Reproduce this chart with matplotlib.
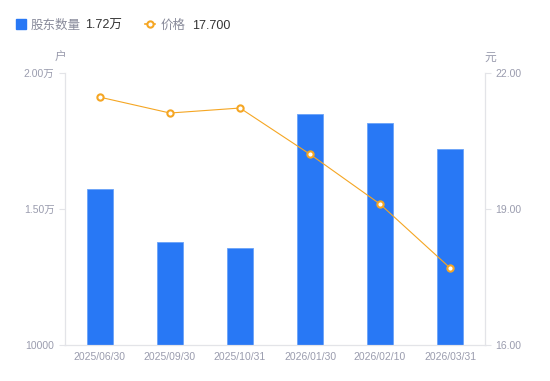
import matplotlib.pyplot as plt
from matplotlib.lines import Line2D

plt.rcParams['font.family'] = ['Liberation Sans', 'Noto Sans CJK SC', 'DejaVu Sans']

dates = ["2025/06/30", "2025/09/30", "2025/10/31", "2026/01/30", "2026/02/10", "2026/03/31"]
holders = [15740, 13790, 13570, 18490, 18160, 17200]
price = [21.47, 21.12, 21.23, 20.21, 19.11, 17.70]

left_ticks = [10000, 15000, 20000]
left_labels = ["10000", "1.50万", "2.00万"]
right_ticks = [16, 19, 22]

bar_color = "#2878f5"
line_color = "#f5a623"
tick_color = "#9a9cae"
axis_color = "#e3e4e8"

fig = plt.figure(figsize=(5.5, 3.81), dpi=100)
ax = fig.add_axes([0.118, 0.0945, 0.764, 0.7135])
ax2 = ax.twinx()

x = range(len(dates))
ax.bar(x, holders, width=0.36, color=bar_color, edgecolor="#6aa3f8", linewidth=0.6, zorder=2)
ax.set_ylim(10000, 20000)
ax.set_xlim(-0.5, len(dates) - 0.5)
ax.set_yticks(left_ticks)
ax.set_yticklabels(left_labels)
ax.set_xticks(list(x))
ax.set_xticklabels(dates)

ax2.plot(x, price, color=line_color, linewidth=0.8, marker="o", markersize=4.5,
         markerfacecolor="white", markeredgecolor=line_color, markeredgewidth=1.5, zorder=3)
ax2.set_ylim(16, 22)
ax2.set_yticks(right_ticks)
ax2.set_yticklabels(["%.2f" % t for t in right_ticks])

for a in (ax, ax2):
    for s in a.spines.values():
        s.set_color(axis_color)
        s.set_linewidth(0.8)
    a.spines["top"].set_visible(False)
    a.tick_params(axis="both", colors=axis_color, labelcolor=tick_color, labelsize=7.5, length=4, width=0.8)
ax.tick_params(axis="x", length=0, pad=5)

fig.text(55 / 550, 1 - 58 / 381, "户", color=tick_color, fontsize=8.5, ha="left", va="center")
fig.text(484 / 550, 1 - 58 / 381, "元", color=tick_color, fontsize=8.5, ha="left", va="center")

# legend
ly = 1 - 24 / 381
ty = 1 - 26 / 381
fig.add_artist(Line2D([21 / 550], [ly], marker="s", markersize=6.5, color=bar_color, linestyle="none"))
fig.text(31 / 550, ty, "股东数量", color="#888a9a", fontsize=9, va="center")
fig.text(85 / 550, ty, "1.72万", color="#333333", fontsize=9, va="center")
fig.add_artist(Line2D([145 / 550, 155 / 550], [ly, ly], color=line_color, linewidth=1.2))
fig.add_artist(Line2D([150 / 550], [ly], marker="o", markersize=4.5, markerfacecolor="white",
                      markeredgecolor=line_color, markeredgewidth=1.5, linestyle="none"))
fig.text(161 / 550, ty, "价格", color="#888a9a", fontsize=9, va="center")
fig.text(192 / 550, ty, "17.700", color="#333333", fontsize=9, va="center")

fig.savefig("out.png", dpi=100)
